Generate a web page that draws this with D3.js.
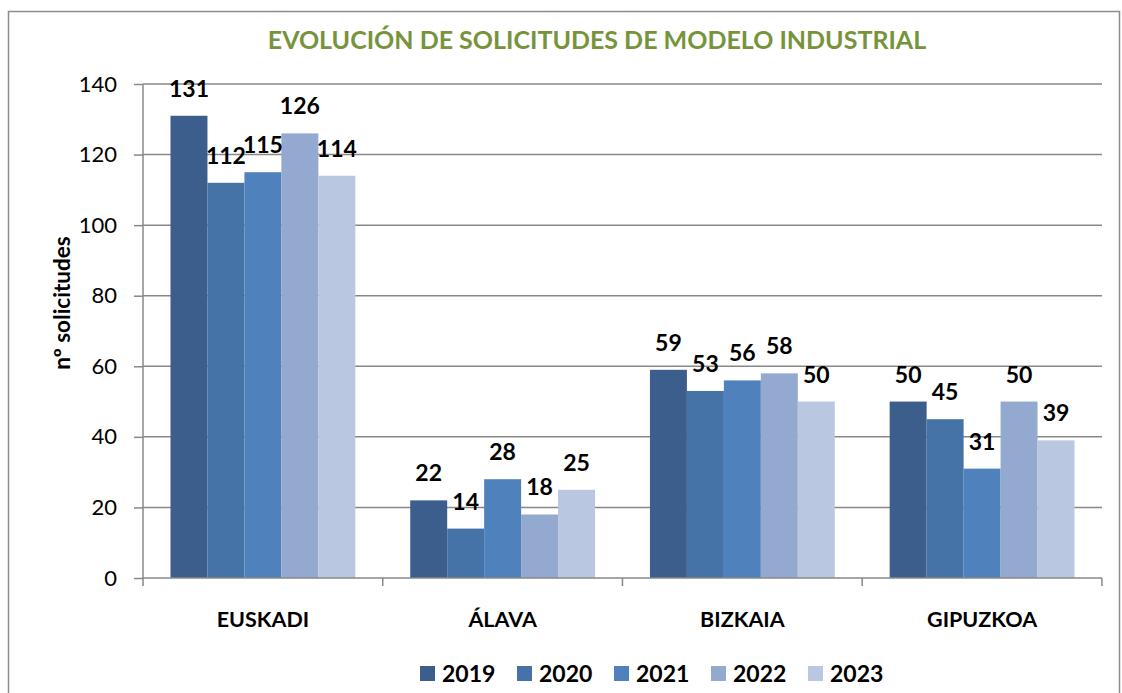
<!DOCTYPE html>
<html><head><meta charset="utf-8">
<script src="https://cdn.jsdelivr.net/npm/d3@7"></script>
<style>body{margin:0;background:#fff;} svg{display:block;font-family:Lato,"Open Sans",sans-serif;}</style>
</head><body>
<svg id="c" width="1122" height="693"></svg>
<script>
const categories = ["EUSKADI","ÁLAVA","BIZKAIA","GIPUZKOA"];
const years = ["2019","2020","2021","2022","2023"];
const v2019 = [131,22,59,50];
const v2020 = [112,14,53,45];
const v2021 = [115,28,56,31];
const v2022 = [126,18,58,50];
const v2023 = [114,25,50,39];
const yTicks = [0,20,40,60,80,100,120,140];
const colors = ["#3B5E8C","#4572A7","#4F81BD","#93A9CF","#B9C7E1"];
const series = [v2019,v2020,v2021,v2022,v2023];

const svg = d3.select("#c");
// frame
svg.append("rect").attr("x",8.5).attr("y",11.5).attr("width",1111).attr("height",700)
  .attr("fill","none").attr("stroke","#8c8c8c").attr("stroke-width",1.5);

const pL=143, pR=1102, pT=84, pB=578;
const x0 = d3.scaleBand().domain(categories).range([pL,pR]).paddingInner(0.229).paddingOuter(0.1147);
const x1 = d3.scaleBand().domain(years).range([0,x0.bandwidth()]);
const y = d3.scaleLinear().domain([0,140]).range([pB,pT]);

// gridlines
svg.append("g").selectAll("line").data(yTicks.filter(d=>d>0)).join("line")
  .attr("x1",pL).attr("x2",pR).attr("y1",d=>y(d)).attr("y2",d=>y(d))
  .attr("stroke","#888").attr("stroke-width",1.5);

// bars
categories.forEach((c,ci)=>{
  years.forEach((yr,si)=>{
    const v = series[si][ci];
    svg.append("rect").attr("x",x0(c)+x1(yr)).attr("y",y(v)).attr("width",x1.bandwidth()).attr("height",y(0)-y(v))
      .attr("fill",colors[si]);
  });
});
// labels
categories.forEach((c,ci)=>{
  years.forEach((yr,si)=>{
    const v = series[si][ci];
    svg.append("text").attr("x",x0(c)+x1(yr)+x1.bandwidth()/2).attr("y",y(v)-19)
      .attr("text-anchor","middle").attr("font-weight","bold").attr("font-size",23).attr("fill","#000").text(v);
  });
});

// y axis
const ya = svg.append("g").attr("transform",`translate(${pL},0)`)
  .call(d3.axisLeft(y).tickValues(yTicks).tickSize(9).tickPadding(17));
ya.select(".domain").attr("stroke","#888").attr("stroke-width",1.5).attr("d",`M0,${pT}V${pB}`);
ya.selectAll(".tick line").attr("stroke","#888").attr("stroke-width",1.5);
ya.selectAll(".tick text").attr("font-size",22).attr("fill","#000").attr("font-family","Lato,sans-serif");

// x axis
const xa = svg.append("g").attr("transform",`translate(0,${pB})`)
  .call(d3.axisBottom(x0).tickSize(0).tickPadding(34));
xa.select(".domain").attr("stroke","#888").attr("stroke-width",1.5).attr("d",`M${pL},0H${pR}`);
xa.selectAll(".tick text").attr("font-size",21.5).attr("font-weight","bold").attr("fill","#000").attr("font-family","Lato,sans-serif");
const step = x0.step();
xa.selectAll(".sep").data(d3.range(5)).join("line").attr("class","sep")
  .attr("x1",d=>pL+d*step).attr("x2",d=>pL+d*step).attr("y1",0).attr("y2",8)
  .attr("stroke","#888").attr("stroke-width",1.5);

// title
svg.append("text").attr("x",597).attr("y",49).attr("text-anchor","middle").attr("font-weight","bold")
  .attr("font-size",25).attr("fill","#77933C").text("EVOLUCIÓN DE SOLICITUDES DE MODELO INDUSTRIAL");

// y title
svg.append("text").attr("transform",`translate(70,303) rotate(-90)`).attr("text-anchor","middle")
  .attr("font-weight","bold").attr("font-size",22.5).attr("fill","#000").text("nº solicitudes");

// legend
const lg = svg.append("g");
years.forEach((yr,i)=>{
  const lx = 420 + i*97;
  lg.append("rect").attr("x",lx).attr("y",666).attr("width",15).attr("height",15).attr("fill",colors[i]);
  lg.append("text").attr("x",lx+22).attr("y",682).attr("font-weight","bold").attr("font-size",23).attr("fill","#000").text(yr);
});
</script>
</body></html>
